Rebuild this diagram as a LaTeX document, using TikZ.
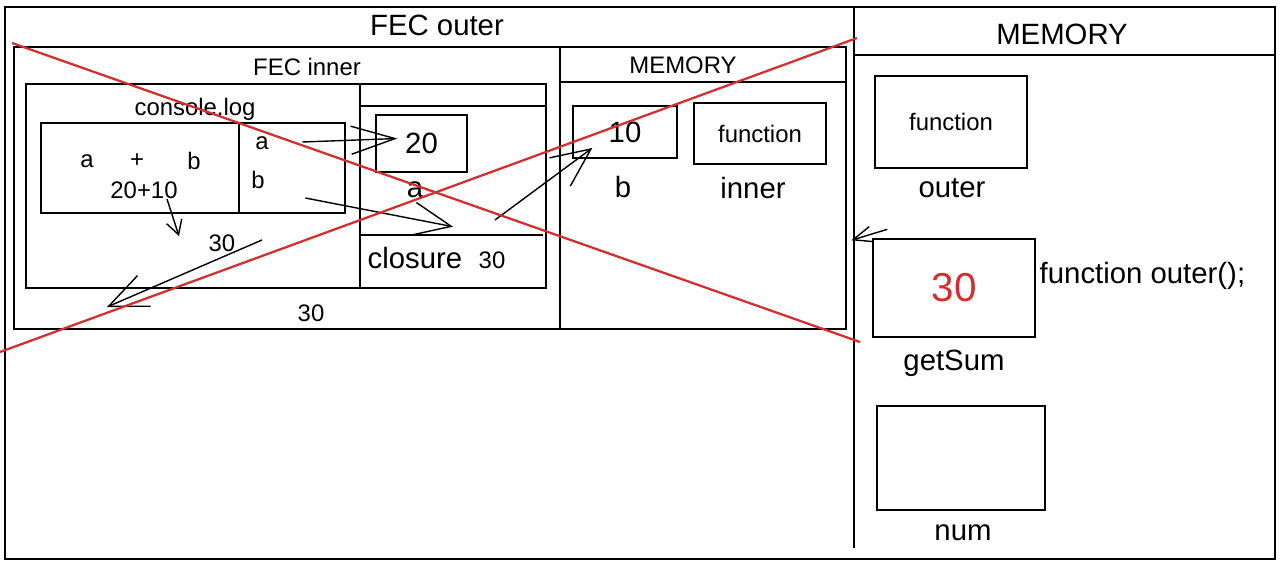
\documentclass[tikz,border=0pt]{standalone}
\usepackage{fontspec}
\setmainfont{Liberation Sans}
\usetikzlibrary{arrows.meta,positioning}
\definecolor{crossred}{RGB}{208,48,48}

\begin{document}
\begin{tikzpicture}[x=0.02cm,y=-0.02cm,line width=0.8pt,
  >={Straight Barb[length=22pt,width=19pt]},
  big/.style={font=\fontsize{16.7pt}{20pt}\selectfont,inner sep=0pt,text depth=0pt},
  small/.style={font=\fontsize{13.6pt}{16pt}\selectfont,inner sep=0pt,text depth=0pt},
  cell/.style={draw,inner sep=0pt},
  cross/.style={draw=crossred,line width=1.3pt}]

\useasboundingbox (0,0) rectangle (1281,565);

% frames
\draw (5,7) rectangle (1275,559);
\draw (854,7) -- (854,548);
\draw (854,55) -- (1275,55);
\draw (14,47) rectangle (846,329);
\draw (560,47) -- (560,329);
\draw (560,82) -- (846,82);
\draw (26,84) rectangle (546,288);
\draw (360,84) -- (360,288);
\draw (360,106) -- (546,106);
\draw (360,235) -- (543,235);
\draw (41,123) rectangle (345,213);
\draw (239,123) -- (239,213);

% titles
\node[big]   (tOuter)  at (437,25)  {FEC outer};
\node[big]   (tMem)    at (1062,34) {MEMORY};
\node[small] (tInner)  at (307,67)  {FEC inner};
\node[small] (tMemIn)  at (683,65)  {MEMORY};
\node[small] (tLog)    at (195,107) {console.log};

% console.log
\node[small] (sa)    at (87,161)  {a};
\node[small] (splus) at (137,161) {+};
\node[small] (sb)    at (194,161) {b};
\node[small] (ssum)  at (144,190) {20+10};
\node[small] (pa)    at (262,143) {a};
\node[small] (pb)    at (258,180) {b};

% closure
\node[cell,big,minimum width=1.82cm,minimum height=1.14cm] (b20) at (421.5,143.5) {20};
\node[big]   (va)      at (415,190) {a};
\node[big]   (closure) at (415,258) {closure};
\node[small] (n30b)    at (492,260) {30};
\node[small] (n30a)    at (222,243) {30};
\node[small] (n30c)    at (311,313) {30};
\coordinate  (out30)   at (107,307);

% inner memory
\node[cell,big,minimum width=2.08cm,minimum height=1.04cm] (b10) at (625,132) {10};
\node[cell,small,minimum width=2.64cm,minimum height=1.22cm] (bInner) at (760,133.5) {function};
\node[big] (vb)     at (623,187) {b};
\node[big] (vInner) at (753,188) {inner};

% outer memory
\node[cell,small,minimum width=3.04cm,minimum height=1.84cm] (bOuter) at (951,122) {function};
\node[big] (vOuter) at (952,188) {outer};
\node[cell,font=\fontsize{23pt}{26pt}\selectfont,text=crossred,minimum width=3.24cm,minimum height=1.96cm] (bGet) at (954,288) {30};
\node[big] (vGet) at (954,360) {getSum};
\node[big,anchor=west] (call) at (1039,273) {function outer();};
\node[cell,minimum width=3.36cm,minimum height=2.08cm] (bNum) at (961,458) {};
\node[big] (vNum) at (963,533) {num};

% arrows
\draw[->,>={Straight Barb[length=25pt,width=16pt]}] ([xshift=0.66cm,yshift=0.02cm]pa.east) -- ([xshift=0.44cm,yshift=0.1cm]b20.west);
\draw[->] ([xshift=0.8cm,yshift=-0.36cm]pb.east) -- ([xshift=0.76cm,yshift=0.4cm]closure.north);
\draw[->,>={Straight Barb[length=8pt,width=9pt]}] ([xshift=0.46cm]ssum.south) -- ([xshift=0.7cm,yshift=-0.74cm]ssum.south);
\draw[->] ([xshift=0.52cm,yshift=0.06cm]n30a.east) -- (out30);
\draw[->,>={Straight Barb[length=22pt,width=20pt]}] ([xshift=0.06cm,yshift=0.62cm]n30b.north) -- ([xshift=0.4cm,yshift=-0.32cm]b10.west);
\draw[->,>={Straight Barb[length=11pt,width=9pt]}] ([xshift=0.3cm,yshift=0.18cm]bGet.north west) -- ([xshift=-0.42cm,yshift=-0.04cm]bGet.north west);

% cross
\draw[cross] (12,43) -- (860,342);
\draw[cross] (0,352) -- (857,38);
\end{tikzpicture}
\end{document}
